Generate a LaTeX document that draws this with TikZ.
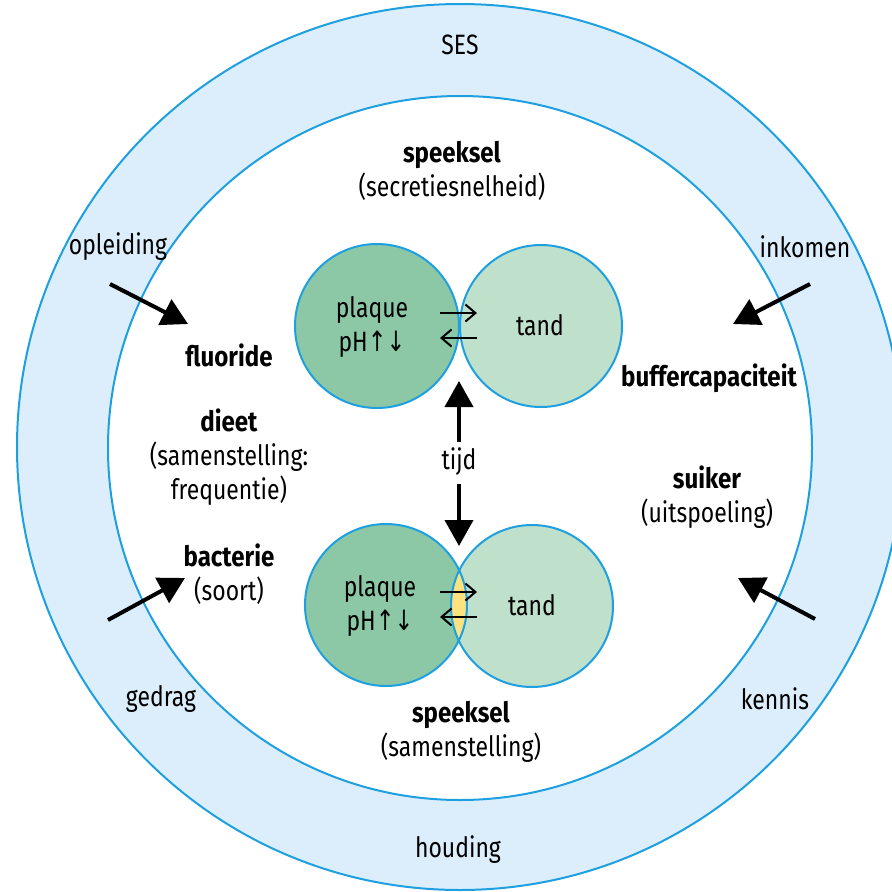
\documentclass[tikz,border=0pt]{standalone}
\usepackage{fontspec}
\setmainfont{Fira Sans}[FakeStretch=0.82, BoldFeatures={FakeStretch=0.86}]
\newfontfamily\arrowfont{DejaVu Sans}[FakeStretch=0.8]
\usetikzlibrary{arrows.meta}

\definecolor{ringblue}{HTML}{DCEEFB}
\definecolor{lineblue}{HTML}{1EA0E0}
\definecolor{plaquegreen}{HTML}{8CC8A6}
\definecolor{tandgreen}{HTML}{BFE0CB}
\definecolor{lensyellow}{HTML}{FDE27F}

\tikzset{
  lbl/.style={font=\fontsize{28}{34}\selectfont, inner sep=0pt, align=center},
  blbl/.style={lbl, font=\fontsize{28}{34}\selectfont\bfseries},
  ring/.style={draw=lineblue, line width=2pt},
  influence/.style={line width=4pt, -{Triangle[length=26pt,width=28pt]}},
  exchange/.style={line width=2pt, -{Straight Barb[length=10pt,width=17pt]}},
}

\begin{document}
\begin{tikzpicture}[x=1pt,y=-1pt]
\useasboundingbox (0,0) rectangle (892,892);
\clip (0,0) rectangle (892,892);

% outer ring and inner field
\fill[ringblue, ring] (460,447) circle[radius=443pt];
\fill[white, ring] (460,448) circle[radius=352pt];

% top pair: plaque and tooth just touching
\fill[plaquegreen] (377,326) circle[radius=82pt];
\fill[tandgreen] (541,326) circle[radius=81pt];
\draw[ring] (377,326) circle[radius=82pt];
\draw[ring] (541,326) circle[radius=81pt];

% bottom pair: overlapping, with the contact zone in yellow
\fill[plaquegreen] (386,605) circle[radius=81pt];
\fill[tandgreen] (532,606) circle[radius=81pt];
\begin{scope}
  \clip (386,605) circle[radius=81pt];
  \fill[lensyellow] (532,606) circle[radius=81pt];
\end{scope}
\draw[ring] (386,605) circle[radius=81pt];
\draw[ring] (532,606) circle[radius=81pt];

% ring labels
\node[lbl] (ses) at (460,45) {SES};
\node[lbl] (houding) at (458,850) {houding};
\node[lbl] (opleiding) at (118,247) {opleiding};
\node[lbl] (inkomen) at (805,247) {inkomen};
\node[lbl] (gedrag) at (161,699) {gedrag};
\node[lbl] (kennis) at (775,699) {kennis};

% inner labels
\node[lbl] (speekselA) at (452,171) {\textbf{speeksel}\\(secretiesnelheid)};
\node[blbl] (fluoride) at (229,355) {fluoride};
\node[blbl] (buffer) at (709,378) {buffercapaciteit};
\node[lbl] (dieet) at (229,457) {\textbf{dieet}\\(samenstelling:\\frequentie)};
\node[lbl] (tijd) at (459,462) {tijd};
\node[lbl] (suiker) at (707,497) {\textbf{suiker}\\(uitspoeling)};
\node[lbl] (bacterie) at (229,574) {\textbf{bacterie}\\(soort)};
\node[lbl] (speekselB) at (461,732) {\textbf{speeksel}\\(samenstelling)};

% circle labels
\node[lbl] (plaqueA) at (372,327) {plaque\\pH{\arrowfont ↑↓}};
\node[lbl] (tandA) at (540,325) {tand};
\node[lbl] (plaqueB) at (380,606) {plaque\\pH{\arrowfont ↑↓}};
\node[lbl] (tandB) at (532,605) {tand};

% exchange arrows between plaque and tooth
\coordinate (exAl) at (440,313); \coordinate (exAr) at (477,313);
\coordinate (exBl) at (440,338); \coordinate (exBr) at (477,338);
\draw[exchange] (exAl) -- (exAr);
\draw[exchange] (exBr) -- (exBl);
\coordinate (exCl) at (440,592); \coordinate (exCr) at (477,592);
\coordinate (exDl) at (440,617); \coordinate (exDr) at (477,617);
\draw[exchange] (exCl) -- (exCr);
\draw[exchange] (exDr) -- (exDl);

% time arrows
\coordinate (tUp) at (459,381);
\coordinate (tDown) at (459,546);
\draw[influence] (tijd.north) ++(0,-6) -- (tUp);
\draw[influence] (tijd.south) ++(0,8) -- (tDown);

% influences from the socio-economic ring
\coordinate (iA) at (110,284); \coordinate (iAe) at (188,324);
\coordinate (iB) at (810,284); \coordinate (iBe) at (733,324);
\coordinate (iC) at (108,620); \coordinate (iCe) at (185,578);
\coordinate (iD) at (815,619); \coordinate (iDe) at (738,578);
\draw[influence] (iA) -- (iAe);
\draw[influence] (iB) -- (iBe);
\draw[influence] (iC) -- (iCe);
\draw[influence] (iD) -- (iDe);
\end{tikzpicture}
\end{document}
